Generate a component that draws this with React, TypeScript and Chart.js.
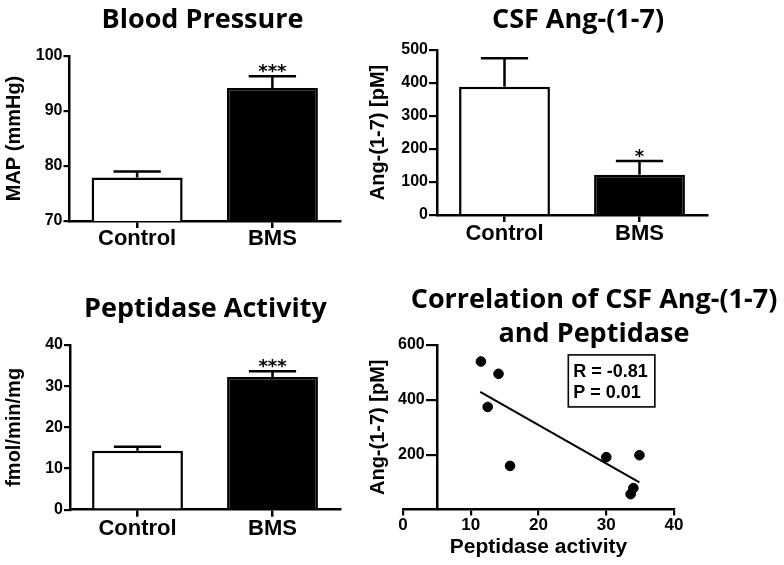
import React, { useEffect, useRef } from 'react';
import { Chart, registerables } from 'chart.js';

Chart.register(...registerables);

// ---------- data ----------
const groups = ['Control', 'BMS'];

const bpTitle = 'Blood Pressure';
const bpYTitle = 'MAP (mmHg)';
const bpMeans = [77.9, 94.2];
const bpErrors = [1.1, 2.1];
const bpTicks = [70, 80, 90, 100];
const bpStars = ['', '***'];

const csfTitle = 'CSF Ang-(1-7)';
const csfYTitle = 'Ang-(1-7) [pM]';
const csfMeans = [389, 122];
const csfErrors = [86, 42];
const csfTicks = [0, 100, 200, 300, 400, 500];
const csfStars = ['', '*'];

const pepTitle = 'Peptidase Activity';
const pepYTitle = 'fmol/min/mg';
const pepMeans = [14.3, 32.2];
const pepErrors = [1.0, 1.4];
const pepTicks = [0, 10, 20, 30, 40];
const pepStars = ['', '***'];

const corrTitle = ['Correlation of CSF Ang-(1-7)', 'and Peptidase'];
const corrXTitle = 'Peptidase activity';
const corrYTitle = 'Ang-(1-7) [pM]';
const corrX = [11.5, 14.1, 12.5, 15.8, 30.0, 34.9, 34.0, 33.6];
const corrY = [540, 495, 374, 159, 191, 198, 78, 56];
const fitX = [11.4, 34.9];
const fitY = [429, 99];
const corrXTicks = [0, 10, 20, 30, 40];
const corrYTicks = [200, 400, 600];
const corrStats = ['R = -0.81', 'P = 0.01'];
const corrStatsAt = [24.4, 564];

// ---------- styling ----------
const TICK_FONT = "'Liberation Sans', Arial, sans-serif";
const TITLE_FONT = "'Open Sans', 'Noto Sans', sans-serif";
const STAR_FONT = "'DejaVu Sans', sans-serif";

const errorBarPlugin = {
  id: 'errorBars',
  afterDatasetsDraw(chart: any, _args: any, opts: any) {
    if (!opts || !opts.errors) return;
    const meta = chart.getDatasetMeta(0);
    const yScale = chart.scales.y;
    const ctx = chart.ctx;
    const values = chart.data.datasets[0].data;
    ctx.save();
    ctx.strokeStyle = '#000';
    ctx.lineWidth = 2.5;
    meta.data.forEach((bar: any, i: number) => {
      const top = yScale.getPixelForValue(values[i] + opts.errors[i]);
      const half = bar.width * 0.26;
      ctx.beginPath();
      ctx.moveTo(bar.x, bar.y);
      ctx.lineTo(bar.x, top);
      ctx.moveTo(bar.x - half, top);
      ctx.lineTo(bar.x + half, top);
      ctx.stroke();
      const star = opts.stars[i];
      if (star) {
        ctx.fillStyle = '#000';
        ctx.font = `bold 18px ${STAR_FONT}`;
        ctx.textAlign = 'center';
        ctx.textBaseline = 'alphabetic';
        ctx.fillText(star, bar.x, top + 1);
      }
    });
    ctx.restore();
  },
};

const statsBoxPlugin = {
  id: 'statsBox',
  afterDatasetsDraw(chart: any, _args: any, opts: any) {
    if (!opts || !opts.lines) return;
    const ctx = chart.ctx;
    const left = chart.scales.x.getPixelForValue(opts.at[0]);
    const top = chart.scales.y.getPixelForValue(opts.at[1]);
    ctx.save();
    ctx.font = `bold 18px ${TICK_FONT}`;
    const w = Math.max(...opts.lines.map((l: string) => ctx.measureText(l).width)) + 12;
    const lh = 21;
    const h = lh * opts.lines.length + 10;
    ctx.fillStyle = '#fff';
    ctx.fillRect(left, top, w, h);
    ctx.strokeStyle = '#000';
    ctx.lineWidth = 1.6;
    ctx.strokeRect(left, top, w, h);
    ctx.fillStyle = '#000';
    ctx.textAlign = 'left';
    ctx.textBaseline = 'middle';
    opts.lines.forEach((l: string, i: number) => {
      ctx.fillText(l, left + 5, top + 6.5 + lh / 2 + i * lh);
    });
    ctx.restore();
  },
};

function padAxis(width: number, position: string) {
  return {
    type: 'linear',
    position,
    display: true,
    ticks: { display: false },
    grid: { display: false },
    border: { display: false },
    afterFit: (s: any) => {
      s.width = width;
    },
  };
}

function barConfig(p: any) {
  return {
    type: 'bar',
    data: {
      labels: groups,
      datasets: [
        {
          data: p.means,
          backgroundColor: ['#ffffff', '#000000'],
          borderColor: '#000000',
          borderWidth: 2.5,
          borderSkipped: 'bottom',
          barPercentage: 0.673,
          categoryPercentage: 1,
        },
      ],
    },
    options: {
      responsive: false,
      animation: false,
      devicePixelRatio: 1,
      layout: { padding: 0 },
      plugins: {
        legend: { display: false },
        tooltip: { enabled: false },
        title: {
          display: true,
          text: p.title,
          color: '#000',
          font: { family: TITLE_FONT, size: 27, weight: 'bold', lineHeight: 1.2 },
          padding: { top: p.titleTop, bottom: p.titleBottom },
        },
        errorBars: { errors: p.errors, stars: p.stars },
      },
      scales: {
        x: {
          type: 'category',
          offset: true,
          grid: {
            offset: false,
            drawOnChartArea: false,
            drawTicks: true,
            tickLength: 7,
            color: '#000',
            lineWidth: 2.5,
          },
          border: { display: true, color: '#000', width: 2.5 },
          ticks: {
            color: '#000',
            padding: p.xPad,
            font: { family: TICK_FONT, size: 22, weight: 'bold', lineHeight: 1 },
          },
          afterFit: (s: any) => {
            s.height = p.xHeight;
          },
        },
        y: {
          type: 'linear',
          position: 'left',
          min: p.min,
          max: p.max,
          afterBuildTicks: (s: any) => {
            s.ticks = p.ticks.map((v: number) => ({ value: v }));
          },
          grid: {
            drawOnChartArea: false,
            drawTicks: true,
            tickLength: p.yTickLen,
            color: '#000',
            lineWidth: 2.2,
          },
          border: { display: true, color: '#000', width: 2.5 },
          ticks: {
            color: '#000',
            padding: 1,
            font: { family: TICK_FONT, size: 16, weight: 'bold' },
          },
          title: {
            display: true,
            text: p.yTitle,
            color: '#000',
            font: { family: TICK_FONT, size: 20, weight: 'bold', lineHeight: 1.2 },
            padding: { top: p.yTitlePad, bottom: 0 },
          },
          afterFit: (s: any) => {
            s.width = p.yWidth;
          },
        },
        pad: padAxis(p.padWidth, 'right'),
      },
    },
    plugins: [errorBarPlugin],
  };
}

function corrConfig() {
  return {
    type: 'scatter',
    data: {
      datasets: [
        {
          data: corrX.map((x, i) => ({ x, y: corrY[i] })),
          backgroundColor: '#000',
          borderColor: '#000',
          pointRadius: 4.8,
          xAxisID: 'x',
          yAxisID: 'y',
        },
        {
          data: fitX.map((x, i) => ({ x, y: fitY[i] })),
          showLine: true,
          borderColor: '#000',
          borderWidth: 2,
          pointRadius: 0,
          xAxisID: 'x',
          yAxisID: 'y',
        },
      ],
    },
    options: {
      responsive: false,
      animation: false,
      devicePixelRatio: 1,
      layout: { padding: 0 },
      plugins: {
        legend: { display: false },
        tooltip: { enabled: false },
        title: {
          display: true,
          text: corrTitle,
          color: '#000',
          font: { family: TITLE_FONT, size: 27, weight: 'bold', lineHeight: 1.26 },
          padding: { top: 1, bottom: -6 },
        },
        statsBox: { lines: corrStats, at: corrStatsAt },
      },
      scales: {
        x: {
          type: 'linear',
          position: 'bottom',
          min: 0,
          max: 40,
          afterBuildTicks: (s: any) => {
            s.ticks = corrXTicks.map((v) => ({ value: v }));
          },
          grid: {
            drawOnChartArea: false,
            drawTicks: true,
            tickLength: 6,
            color: '#000',
            lineWidth: 2.2,
          },
          border: { display: true, color: '#000', width: 2.5 },
          ticks: {
            color: '#000',
            padding: 1,
            font: { family: TICK_FONT, size: 17, weight: 'bold', lineHeight: 1 },
          },
          title: {
            display: true,
            text: corrXTitle,
            color: '#000',
            font: { family: TICK_FONT, size: 21, weight: 'bold', lineHeight: 1.2 },
            padding: { top: 0, bottom: 5 },
          },
          afterFit: (s: any) => {
            s.height = 55.5;
          },
        },
        y: {
          type: 'linear',
          position: { x: 5 },
          min: 0,
          max: 600,
          afterBuildTicks: (s: any) => {
            s.ticks = corrYTicks.map((v) => ({ value: v }));
          },
          grid: {
            drawOnChartArea: false,
            drawTicks: true,
            tickLength: 10,
            color: '#000',
            lineWidth: 2.2,
          },
          border: { display: true, color: '#000', width: 2.5 },
          ticks: { display: false },
          afterFit: (s: any) => {
            s.width = 0;
          },
        },
        yt: {
          type: 'linear',
          position: 'left',
          display: true,
          min: 0,
          max: 600,
          afterBuildTicks: (s: any) => {
            s.ticks = corrYTicks.map((v) => ({ value: v }));
          },
          ticks: {
            display: true,
            mirror: true,
            padding: -5,
            color: '#000',
            font: { family: TICK_FONT, size: 16, weight: 'bold' },
          },
          grid: { display: false },
          border: { display: false },
          title: {
            display: true,
            text: corrYTitle,
            color: '#000',
            font: { family: TICK_FONT, size: 20, weight: 'bold', lineHeight: 1.2 },
            padding: { top: 0, bottom: 0 },
          },
          afterFit: (s: any) => {
            s.width = 37;
          },
        },
        pad: padAxis(148, 'right'),
      },
    },
    plugins: [statsBoxPlugin],
  };
}

function ChartCanvas(props: { make: () => any; left: number; top: number; width: number; height: number }) {
  const ref = useRef<HTMLCanvasElement | null>(null);
  useEffect(() => {
    const chart = new Chart(ref.current as HTMLCanvasElement, props.make());
    return () => chart.destroy();
  }, []);
  return (
    <canvas
      ref={ref}
      width={props.width}
      height={props.height}
      style={{ position: 'absolute', left: props.left, top: props.top, width: props.width, height: props.height }}
    />
  );
}

export default function App() {
  return (
    <div
      style={{
        position: 'absolute',
        left: 0,
        top: 0,
        width: 784,
        height: 565,
        overflow: 'hidden',
        background: '#ffffff',
      }}
    >
      <ChartCanvas
        left={0}
        top={0}
        width={405}
        height={282}
        make={() =>
          barConfig({
            title: bpTitle, yTitle: bpYTitle, means: bpMeans, errors: bpErrors, stars: bpStars,
            ticks: bpTicks, min: 70, max: 100,
            titleTop: 4, titleBottom: 19.6, xHeight: 61, xPad: 0,
            yWidth: 69.5, padWidth: 65, yTitlePad: 2, yTickLen: 6,
          })
        }
      />
      <ChartCanvas
        left={366}
        top={0}
        width={424}
        height={282}
        make={() =>
          barConfig({
            title: csfTitle, yTitle: csfYTitle, means: csfMeans, errors: csfErrors, stars: csfStars,
            ticks: csfTicks, min: 0, max: 500,
            titleTop: 4.4, titleBottom: 13.2, xHeight: 67, xPad: 0.5,
            yWidth: 71, padWidth: 83, yTitlePad: 0, yTickLen: 8,
          })
        }
      />
      <ChartCanvas
        left={0}
        top={282}
        width={411}
        height={283}
        make={() =>
          barConfig({
            title: pepTitle, yTitle: pepYTitle, means: pepMeans, errors: pepErrors, stars: pepStars,
            ticks: pepTicks, min: 0, max: 40,
            titleTop: 10.9, titleBottom: 19.7, xHeight: 55.3, xPad: 0.8,
            yWidth: 70, padWidth: 71, yTitlePad: 2, yTickLen: 6,
          })
        }
      />
      <ChartCanvas left={366} top={282} width={456} height={283} make={corrConfig} />
    </div>
  );
}
